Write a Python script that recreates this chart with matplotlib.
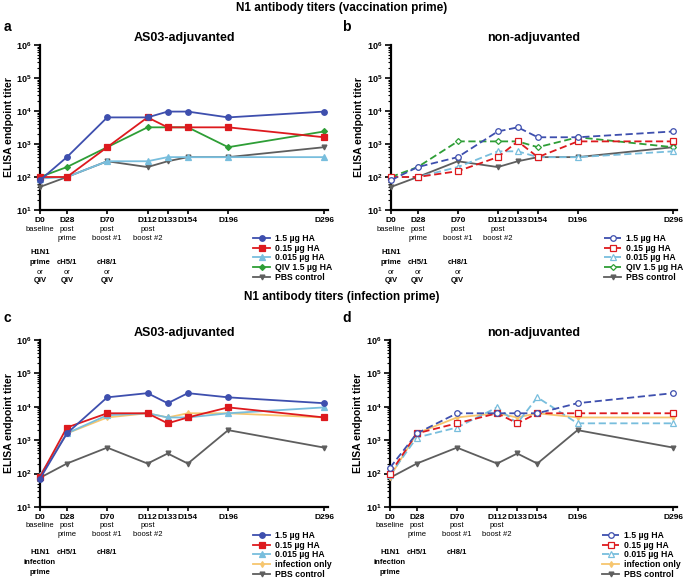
import matplotlib
matplotlib.use('Agg')
import matplotlib.pyplot as plt
from matplotlib.transforms import blended_transform_factory

plt.rcParams['font.family'] = ['Liberation Sans', 'DejaVu Sans']
plt.rcParams['mathtext.fontset'] = 'custom'
plt.rcParams['mathtext.rm'] = 'Liberation Sans:bold'
plt.rcParams['mathtext.bf'] = 'Liberation Sans:bold'
plt.rcParams['mathtext.it'] = 'Liberation Sans:bold:italic'

# ---------------- data ----------------
days = [0, 28, 70, 112, 133, 154, 196, 296]
day_labels = ['D0', 'D28', 'D70', 'D112', 'D133', 'D154', 'D196', 'D296']
sub_labels = {0: 'baseline', 28: 'post\nprime', 70: 'post\nboost #1', 112: 'post\nboost #2'}

# panel a: vaccination prime, AS03-adjuvanted
a_15 = [80, 400, 6400, 6400, 9600, 9600, 6400, 9600]
a_015 = [100, 100, 800, 6400, 3200, 3200, 3200, 1600]
a_0015 = [90, 100, 300, 300, 400, 400, 400, 400]
a_qiv = [100, 200, 800, 3200, 3200, 3200, 800, 2400]
a_pbs = [50, 100, 300, 200, 300, 400, 400, 800]

# panel b: vaccination prime, non-adjuvanted
b_15 = [80, 200, 400, 2400, 3200, 1600, 1600, 2400]
b_015 = [100, 100, 150, 400, 1200, 400, 1200, 1200]
b_0015 = [100, 100, 200, 600, 600, 400, 400, 600]
b_qiv = [100, 200, 1200, 1200, 1200, 800, 1600, 800]
b_pbs = [50, 100, 300, 200, 300, 400, 400, 800]

# panel c: infection prime, AS03-adjuvanted
c_15 = [70, 1600, 19200, 25600, 12800, 25600, 19200, 12800]
c_015 = [80, 2400, 6400, 6400, 3200, 4800, 9600, 4800]
c_0015 = [90, 1600, 5600, 6400, 4800, 4800, 6400, 9600]
c_inf = [80, 1600, 4800, 6400, 4800, 6400, 6400, 4800]
c_pbs = [75, 200, 600, 200, 400, 200, 2000, 600]

# panel d: infection prime, non-adjuvanted
d_15 = [150, 1600, 6400, 6400, 6400, 6400, 12800, 25600]
d_015 = [100, 1600, 3200, 6400, 3200, 6400, 6400, 6400]
d_0015 = [90, 1200, 2400, 9600, 3200, 19200, 3200, 3200]
d_inf = [80, 1600, 4800, 6400, 4800, 6400, 4800, 4800]
d_pbs = [75, 200, 600, 200, 400, 200, 2000, 600]

labels_vacc = ['1.5 µg HA', '0.15 µg HA', '0.015 µg HA', 'QIV 1.5 µg HA', 'PBS control']
labels_inf = ['1.5 µg HA', '0.15 µg HA', '0.015 µg HA', 'infection only', 'PBS control']

# ---------------- styles ----------------
BLUE = '#3E4FAE'
RED = '#DD1A1E'
LBLUE = '#78BEDD'
GREEN = '#2E9E36'
GREY = '#5E5E5E'
YELLOW = '#F7C66E'

W, H = 685, 582
fig = plt.figure(figsize=(W / 100, H / 100), dpi=100)


def fx(px):
    return px / W


def fy(py):
    return 1 - py / H


def make_axes(l, r, t, b):
    return fig.add_axes([fx(l), fy(b), (r - l) / W, (b - t) / H])


def style_axes(ax, title, ylab_x_px, l, r):
    ax.set_yscale('log')
    ax.set_ylim(10, 1e6)
    ax.set_xlim(0, 300)
    for s in ['top', 'right']:
        ax.spines[s].set_visible(False)
    for s in ['left', 'bottom']:
        ax.spines[s].set_linewidth(1.6)
    ax.set_xticks(days)
    ax.set_xticklabels(day_labels, fontsize=6, fontweight='bold')
    ax.tick_params(axis='x', length=3, width=1.2, pad=2)
    ax.set_yticks([10, 1e2, 1e3, 1e4, 1e5, 1e6])
    ax.set_yticklabels([r'$\mathbf{10^{%d}}$' % k for k in range(1, 7)], fontsize=6.5)
    ax.tick_params(axis='y', which='major', length=4, width=1.2, pad=2)
    ax.tick_params(axis='y', which='minor', length=2, width=0.8)
    ax.set_ylabel('ELISA endpoint titer', fontsize=7.5, fontweight='bold')
    ax.yaxis.set_label_coords((ylab_x_px - l) / (r - l), 0.5)
    ax.set_title(title, fontsize=9, fontweight='bold', pad=3)


def plot_series(ax, series, colors, markers, dashed_flags, open_flags, sizes):
    handles = []
    for vals, c, m, dsh, op, ms in zip(series, colors, markers, dashed_flags, open_flags, sizes):
        ls = (0, (4, 2)) if dsh else '-'
        mfc = 'white' if op else c
        h, = ax.plot(days, vals, color=c, marker=m, ms=ms, lw=1.3, ls=ls,
                     mfc=mfc, mec=c, mew=0.9, clip_on=False)
        handles.append(h)
    n = len(handles)
    for i, h in enumerate(handles):
        h.set_zorder(3 + n - i)
    return handles


def sub_texts(ax, y_sub_px, blocks):
    tr = blended_transform_factory(ax.transData, fig.transFigure)
    for d, s in sub_labels.items():
        ax.text(d, fy(y_sub_px), s, transform=tr, ha='center', va='top',
                fontsize=5.5, linespacing=1.3)
    for d, txt, bold, ypx in blocks:
        ax.text(d, fy(ypx), txt, transform=tr, ha='center', va='center',
                fontsize=5.5, fontweight='bold' if bold else 'normal')


def legend(handles, labels, x_px, y_px):
    leg = fig.legend(handles, labels, loc='upper left',
                     bbox_to_anchor=(fx(x_px), fy(y_px)), bbox_transform=fig.transFigure,
                     frameon=False, fontsize=6.2, handlelength=2.0, handletextpad=0.6,
                     labelspacing=0.08, borderpad=0, borderaxespad=0)
    for t in leg.get_texts():
        t.set_fontweight('bold')


vacc_blocks = [(0, 'H1N1', True, 253), (0, 'prime', True, 262), (0, 'or', False, 272), (0, 'QIV', True, 280),
               (28, 'cH5/1', True, 262), (28, 'or', False, 272), (28, 'QIV', True, 280),
               (70, 'cH8/1', True, 262), (70, 'or', False, 272), (70, 'QIV', True, 280)]
inf_blocks = [(0, 'H1N1', True, 553), (0, 'infection', True, 563), (0, 'prime', True, 572),
              (28, 'cH5/1', True, 553), (70, 'cH8/1', True, 553)]

cols_v = [BLUE, RED, LBLUE, GREEN, GREY]
cols_i = [BLUE, RED, LBLUE, YELLOW, GREY]
marks_v = ['o', 's', '^', 'D', 'v']
marks_i = ['o', 's', '^', 'd', 'v']
sizes = [4, 4, 4, 3, 3.5]

# ---- panel a ----
axa = make_axes(40, 328, 45, 210)
style_axes(axa, 'AS03-adjuvanted', 14, 40, 328)
ha = plot_series(axa, [a_15, a_015, a_0015, a_qiv, a_pbs], cols_v, marks_v,
                 [False] * 5, [False] * 5, sizes)
sub_texts(axa, 226, vacc_blocks)
legend(ha, labels_vacc, 253, 234)

# ---- panel b ----
axb = make_axes(391, 677, 45, 210)
style_axes(axb, 'non-adjuvanted', 364, 391, 677)
hb = plot_series(axb, [b_15, b_015, b_0015, b_qiv, b_pbs], cols_v, marks_v,
                 [True] * 4 + [False], [True] * 4 + [False], sizes)
sub_texts(axb, 226, vacc_blocks)
legend(hb, labels_vacc, 604, 234)

# ---- panel c ----
axc = make_axes(40, 328, 340, 507)
style_axes(axc, 'AS03-adjuvanted', 14, 40, 328)
hc = plot_series(axc, [c_15, c_015, c_0015, c_inf, c_pbs], cols_i, marks_i,
                 [False] * 5, [False] * 5, sizes)
sub_texts(axc, 522, inf_blocks)
legend(hc, labels_inf, 253, 531)

# ---- panel d ----
axd = make_axes(390, 677, 340, 507)
style_axes(axd, 'non-adjuvanted', 363, 390, 677)
hd = plot_series(axd, [d_15, d_015, d_0015, d_inf, d_pbs], cols_i, marks_i,
                 [True, True, True, False, False], [True, True, True, False, False], sizes)
sub_texts(axd, 522, inf_blocks)
legend(hd, labels_inf, 602, 531)

# ---- headers ----
fig.text(fx(342), fy(8), 'N1 antibody titers (vaccination prime)', ha='center', va='center',
         fontsize=8.5, fontweight='bold')
fig.text(fx(342), fy(297), 'N1 antibody titers (infection prime)', ha='center', va='center',
         fontsize=8.5, fontweight='bold')
for letter, x, y in [('a', 4, 27), ('b', 342, 27), ('c', 4, 318), ('d', 342, 318)]:
    fig.text(fx(x), fy(y), letter, ha='left', va='center', fontsize=10, fontweight='bold')

fig.savefig('out.png', dpi=100)
